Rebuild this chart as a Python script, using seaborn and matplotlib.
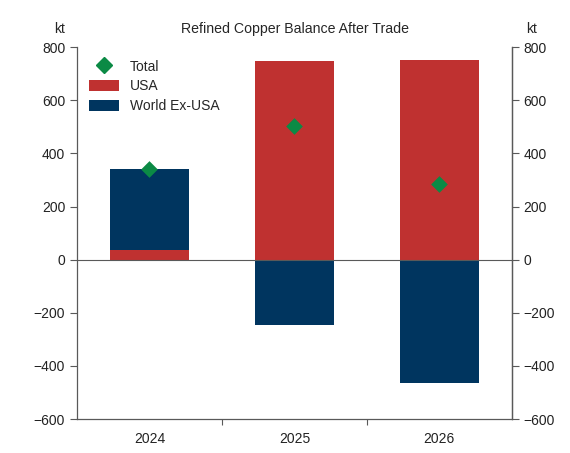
import seaborn as sns
import pandas as pd
import matplotlib.pyplot as plt
from matplotlib.lines import Line2D
from matplotlib.patches import Patch

years = ["2024", "2025", "2026"]
usa = [38, 747, 751]
world_ex_usa = [302, -245, -464]
total = [340, 502, 285]
y_ticks = [-600, -400, -200, 0, 200, 400, 600, 800]

red = "#BF3130"
navy = "#00355F"
green = "#0B8A45"
grey = "#595959"

sns.set_style("white")
plt.rcParams["font.family"] = ["Liberation Sans", "DejaVu Sans"]

df = pd.DataFrame({"year": years, "usa": usa, "world": world_ex_usa, "total": total})
# world bars sit on top of USA when positive, hang from zero when negative
world_bottom = [u if w > 0 else 0 for u, w in zip(usa, world_ex_usa)]

fig = plt.figure(figsize=(5.7, 4.53), dpi=100)
ax = fig.add_axes([0.135, 0.075, 0.763, 0.821])

sns.barplot(data=df, x="year", y="usa", color=red, width=0.54, saturation=1,
            ax=ax, edgecolor="none")
sns.barplot(data=df, x="year", y="world", color=navy, width=0.54, saturation=1,
            ax=ax, bottom=world_bottom, edgecolor="none")
sns.stripplot(data=df, x="year", y="total", color=green, marker="D", size=8.5,
              jitter=False, ax=ax, zorder=5, linewidth=0)

ax.axhline(0, color=grey, lw=0.8, zorder=1)
ax.set_xlim(-0.5, 2.5)
ax.set_ylim(-600, 800)
ax.set_yticks(y_ticks)
ax.set_yticklabels(["\u2212" + str(-t) if t < 0 else str(t) for t in y_ticks])
ax.set_xlabel("")
ax.set_ylabel("")

# category boundary ticks on the x axis
ax.set_xticks([0.5, 1.5], minor=True)
ax.tick_params(axis="x", which="major", bottom=False, labelsize=10, colors="#222222", pad=6)
ax.tick_params(axis="x", which="minor", bottom=True, length=4, color=grey, width=0.8)
ax.tick_params(axis="y", left=True, length=5, color=grey, width=0.8, labelsize=10,
               labelcolor="#222222")

for side in ["left", "bottom", "right"]:
    ax.spines[side].set_color(grey)
    ax.spines[side].set_linewidth(0.9)
ax.spines["top"].set_visible(False)

ax2 = ax.twinx()
ax2.set_ylim(-600, 800)
ax2.set_yticks(y_ticks)
ax2.set_yticklabels(["\u2212" + str(-t) if t < 0 else str(t) for t in y_ticks])
ax2.tick_params(axis="y", right=True, length=5, color=grey, width=0.8, labelsize=10,
                labelcolor="#222222")
for side in ["top", "left", "bottom"]:
    ax2.spines[side].set_visible(False)
ax2.spines["right"].set_color(grey)
ax2.spines["right"].set_linewidth(0.9)

fig.text(0.105, 0.937, "kt", fontsize=10, ha="center", va="center")
fig.text(0.932, 0.937, "kt", fontsize=10, ha="center", va="center")
fig.text(0.517, 0.937, "Refined Copper Balance After Trade", fontsize=10.2,
         ha="center", va="center")

handles = [
    Line2D([], [], marker="D", color=green, linestyle="none", markersize=8.5),
    Patch(facecolor=red, edgecolor="none"),
    Patch(facecolor=navy, edgecolor="none"),
]
ax.legend(handles, ["Total", "USA", "World Ex-USA"], loc="upper left",
          bbox_to_anchor=(0.0, 1.0), frameon=False, fontsize=10,
          handlelength=2.1, handleheight=0.9, handletextpad=0.8, labelspacing=0.42)

fig.savefig("out.png", dpi=100)
